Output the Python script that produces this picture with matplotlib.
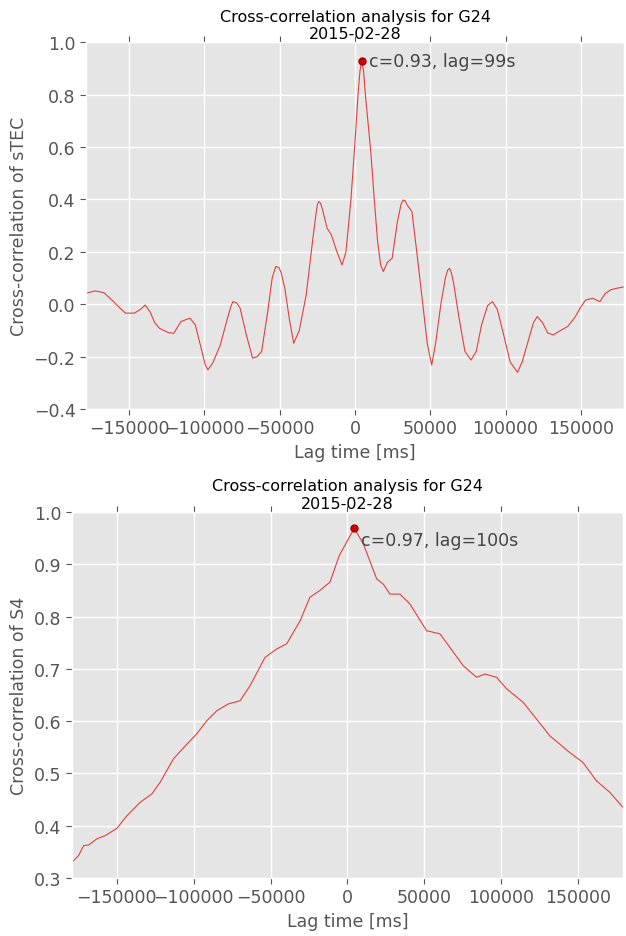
import numpy as np
import matplotlib
matplotlib.use("Agg")
import matplotlib.pyplot as plt

# sTEC cross-correlation (lag in ms)
stec_lag = [-178600, -172600, -166700, -160700, -156000, -152400, -146500, -142500,
            -139300, -136000, -133000, -129800, -124000, -120300, -115600, -109600,
            -106000, -102500, -99500, -97700, -94500, -89400, -85000, -82500, -81100,
            -78500, -76300, -72000, -68000, -65000, -62000, -58000, -55000, -52600,
            -50500, -49000, -46600, -43500, -40700, -37000, -32400, -28000, -26000, -25000,
            -24000, -22800, -21500, -18500, -15700, -12000, -8600, -6000, -2700,
            0, 2000, 3300, 4500, 5700, 6900, 8700, 10500, 12800, 15000, 17000,
            18800, 21500, 24700, 28000, 30500, 31900, 33300, 34500, 37800, 41000,
            45000, 48000, 50900, 53500, 57000, 60000, 61500, 62800, 64000, 65500,
            69000, 73000, 77000, 80500, 84000, 88000, 91300, 94500,
            98000, 103000, 107900, 111000, 115000, 118500, 121000, 124500,
            128000, 131700, 136500, 141200, 146000, 150000, 153100, 157800,
            162600, 166000, 169700, 173000, 176400, 178600]
stec_cc = [0.042, 0.051, 0.044, 0.012, -0.015, -0.034, -0.034, -0.02,
           -0.003, -0.03, -0.07, -0.092, -0.108, -0.111, -0.066, -0.053,
           -0.079, -0.16, -0.23, -0.25, -0.225, -0.155, -0.06, -0.01, 0.010,
           0.005, -0.015, -0.12, -0.206, -0.2, -0.18, -0.03, 0.10, 0.144,
           0.14, 0.12, 0.061, -0.06, -0.149, -0.10, 0.036, 0.25, 0.34, 0.38,
           0.392, 0.385, 0.36, 0.29, 0.265, 0.20, 0.15, 0.20, 0.40,
           0.62, 0.80, 0.89, 0.93, 0.89, 0.80, 0.69, 0.58, 0.40, 0.24, 0.15,
           0.125, 0.16, 0.176, 0.31, 0.38, 0.398, 0.395, 0.38, 0.354, 0.20,
           0.0, -0.15, -0.232, -0.15, 0.0, 0.10, 0.13, 0.137, 0.12, 0.08,
           -0.05, -0.18, -0.213, -0.18, -0.08, -0.005, 0.010, -0.02,
           -0.10, -0.22, -0.26, -0.22, -0.14, -0.07, -0.047, -0.07,
           -0.11, -0.117, -0.10, -0.085, -0.05, -0.01, 0.016, 0.023,
           0.010, 0.04, 0.055, 0.06, 0.064, 0.066]

# S4 cross-correlation (lag in ms)
s4_lag = [-179100, -174800, -171500, -168300, -162900, -157500, -149900, -143400,
          -134700, -127100, -121800, -113100, -104400, -97900, -91400, -84900,
          -77400, -69800, -63300, -53600, -46000, -39500, -30800, -24400,
          -17900, -11400, -5300, 4400, 10300, 19000, 23300, 27600,
          34100, 40600, 51400, 60100, 66600, 75200, 83900, 89300,
          96900, 103400, 114200, 122900, 131500, 144500, 153100, 161800,
          170500, 179100]
s4_cc = [0.330, 0.343, 0.362, 0.363, 0.375, 0.381, 0.395, 0.419,
         0.445, 0.461, 0.483, 0.528, 0.556, 0.576, 0.601, 0.620,
         0.633, 0.639, 0.668, 0.722, 0.738, 0.748, 0.792, 0.837,
         0.850, 0.866, 0.917, 0.969, 0.939, 0.872, 0.862, 0.843,
         0.843, 0.824, 0.773, 0.767, 0.741, 0.706, 0.684, 0.690,
         0.684, 0.662, 0.636, 0.604, 0.572, 0.540, 0.521, 0.486,
         0.464, 0.435]

title = "Cross-correlation analysis for G24\n2015-02-28"
xlabel = "Lag time [ms]"
ylabels = ["Cross-correlation of sTEC", "Cross-correlation of S4"]
peak_texts = ["c=0.93, lag=99s", "c=0.97, lag=100s"]

plt.style.use("ggplot")
fig = plt.figure(figsize=(6.26, 9.37), dpi=100)

ax1 = fig.add_axes([0.1374, 0.5624, 0.8594, 0.3914])
ax2 = fig.add_axes([0.1150, 0.0619, 0.8802, 0.3906])

panels = [
    (ax1, stec_lag, stec_cc, (-0.4, 1.0), np.arange(-0.4, 1.01, 0.2), 0.0),
    (ax2, s4_lag, s4_cc, (0.3, 1.0), np.arange(0.3, 1.01, 0.1), -0.023),
]

for i, (ax, lag, cc, ylim, yt, dy) in enumerate(panels):
    lag = np.array(lag)
    cc = np.array(cc)
    ax.plot(lag, cc, color="#e0403a", lw=0.8)
    k = np.argmax(cc)
    ax.plot(lag[k], cc[k], "o", color="#d40000", mec="#a00000", ms=5)
    ax.text(lag[k] + 4500, cc[k] + dy, peak_texts[i], fontsize=12.5,
            color="#444444", va="center", ha="left")
    ax.set_xlim(lag.min(), lag.max())
    ax.set_ylim(*ylim)
    ax.set_yticks(yt)
    ax.set_xticks([-150000, -100000, -50000, 0, 50000, 100000, 150000])
    ax.tick_params(labelsize=12.5, top=True, right=False, length=4, width=0.8)
    ax.grid(True, color="white", lw=1)
    ax.set_title(title, fontsize=11.5, color="black", pad=3)
    ax.set_xlabel(xlabel, fontsize=12.5, labelpad=4)
    ax.set_ylabel(ylabels[i], fontsize=12.5)
    bb = ax.get_position()
    ax.yaxis.set_label_coords(0.044, bb.y0 + bb.height / 2, transform=fig.transFigure)

fig.savefig("out.png", dpi=100)
